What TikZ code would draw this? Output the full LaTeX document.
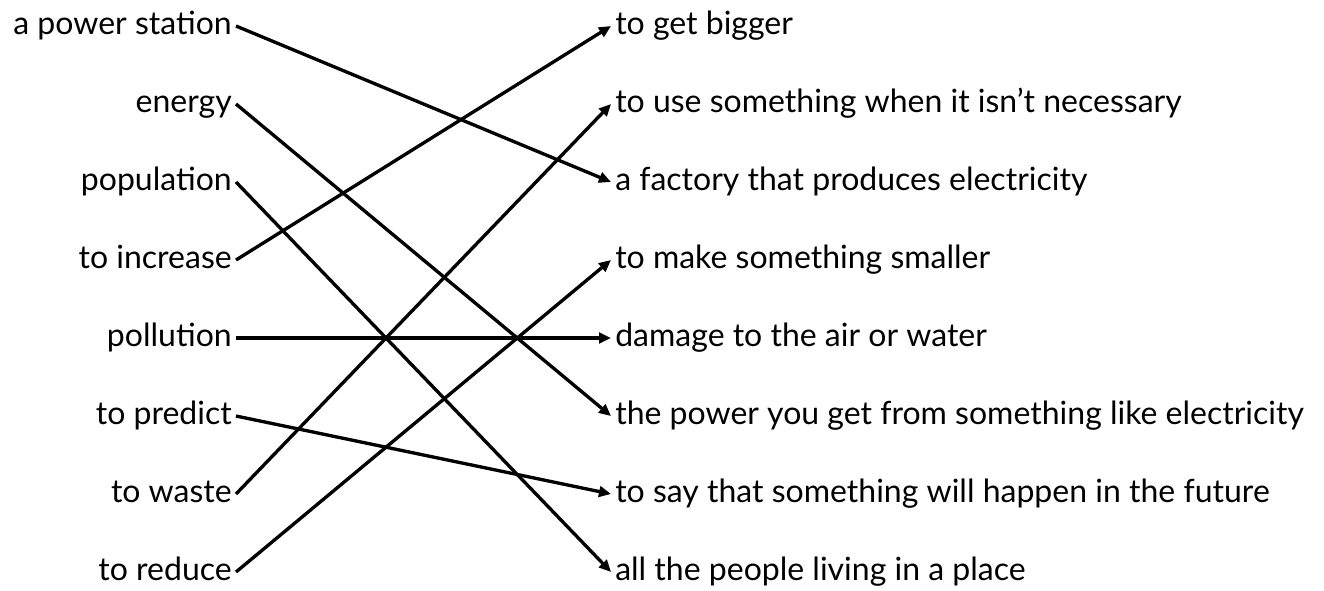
\documentclass[tikz,border=0pt]{standalone}
\usepackage{fontspec}
\setmainfont{Lato}
\usetikzlibrary{arrows.meta}
\begin{document}
\begin{tikzpicture}[x=0.75pt,y=-0.75pt,
    word/.style={anchor=east,inner sep=3pt,font=\fontsize{24}{28}\selectfont,text height=17pt,text depth=5pt},
    defn/.style={anchor=west,inner sep=3pt,font=\fontsize{24}{28}\selectfont,text height=17pt,text depth=5pt}]
      \useasboundingbox (0,0) rectangle (1324,590);
      \draw
        (236,26) node[word] (w0){a power station}
        (236,104) node[word] (w1){energy}
        (236,182) node[word] (w2){population}
        (236,260) node[word] (w3){to increase}
        (236,338) node[word] (w4){pollution}
        (236,416) node[word] (w5){to predict}
        (236,494) node[word] (w6){to waste}
        (236,572) node[word] (w7){to reduce};
      \draw
        (611,26) node[defn] (d0){to get bigger}
        (611,104) node[defn] (d1){to use something when it isn’t necessary}
        (611,182) node[defn] (d2){a factory that produces electricity}
        (611,260) node[defn] (d3){to make something smaller}
        (611,338) node[defn] (d4){damage to the air or water}
        (611,416) node[defn] (d5){the power you get from something like electricity}
        (611,494) node[defn] (d6){to say that something will happen in the future}
        (611,572) node[defn] (d7){all the people living in a place};
      \begin{scope}[-{Triangle[length=9pt,width=8pt]},line width=2.5pt]
        \draw (w0.east) to (d2.west);
        \draw (w1.east) to (d5.west);
        \draw (w2.east) to (d7.west);
        \draw (w3.east) to (d0.west);
        \draw (w4.east) to (d4.west);
        \draw (w5.east) to (d6.west);
        \draw (w6.east) to (d1.west);
        \draw (w7.east) to (d3.west);
      \end{scope}
    \end{tikzpicture}
\end{document}
